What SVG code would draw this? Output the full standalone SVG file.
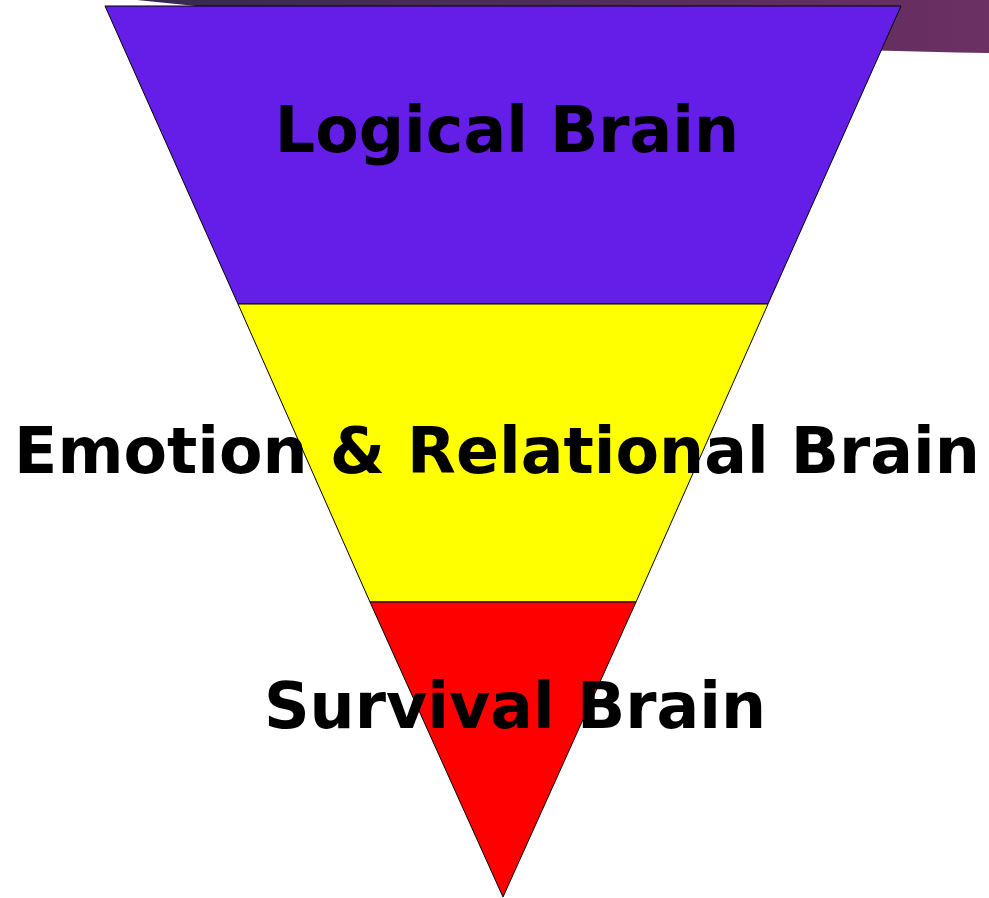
<svg xmlns="http://www.w3.org/2000/svg" width="989" height="898" viewBox="0 0 989 898">
<defs>
<linearGradient id="sw" x1="0" y1="0" x2="1" y2="0">
<stop offset="0" stop-color="#35294f"/>
<stop offset="1" stop-color="#6c3063"/>
</linearGradient>
<style>
.band{stroke:#000;stroke-width:1}
.lbl{font-family:"DejaVu Sans",Verdana,sans-serif;font-weight:bold;font-size:63.4px;fill:#000;text-anchor:middle}
</style>
</defs>
<path d="M137,0 L989,0 L989,53 Q700,48 560,30 Q300,12 196,6 Z" fill="url(#sw)"/>
<g id="logical">
<polygon class="band" points="105,6 901,6 768,304 238,304" fill="#641ee8"/>
<text class="lbl" x="507" y="152">Logical Brain</text>
</g>
<g id="emotion">
<polygon class="band" points="238,304 768,304 636,602 370,602" fill="#ffff00"/>
</g>
<g id="survival">
<polygon class="band" points="370,602 636,602 503,897" fill="#ff0000"/>
</g>
<text class="lbl" x="497" y="473">Emotion &amp; Relational Brain</text>
<text class="lbl" x="515" y="728">Survival Brain</text>
</svg>
